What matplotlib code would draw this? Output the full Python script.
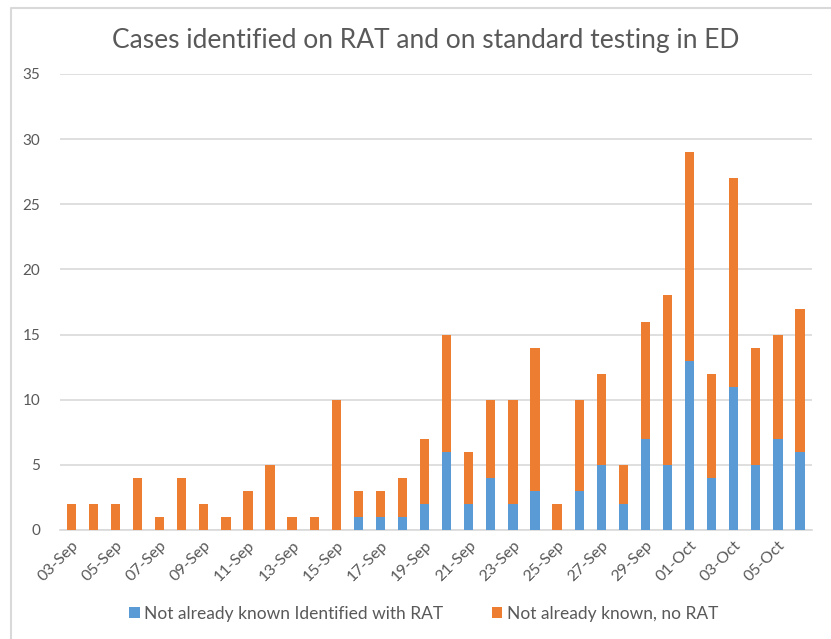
import matplotlib
matplotlib.use("Agg")
import matplotlib.pyplot as plt
import numpy as np
from matplotlib.lines import Line2D

# data
dates = ["03-Sep", "04-Sep", "05-Sep", "06-Sep", "07-Sep", "08-Sep", "09-Sep",
         "10-Sep", "11-Sep", "12-Sep", "13-Sep", "14-Sep", "15-Sep", "16-Sep",
         "17-Sep", "18-Sep", "19-Sep", "20-Sep", "21-Sep", "22-Sep", "23-Sep",
         "24-Sep", "25-Sep", "26-Sep", "27-Sep", "28-Sep", "29-Sep", "30-Sep",
         "01-Oct", "02-Oct", "03-Oct", "04-Oct", "05-Oct", "06-Oct"]
with_rat = [0, 0, 0, 0, 0, 0, 0, 0, 0, 0, 0, 0, 0, 1, 1, 1, 2, 6, 2, 4, 2,
            3, 0, 3, 5, 2, 7, 5, 13, 4, 11, 5, 7, 6]
no_rat = [2, 2, 2, 4, 1, 4, 2, 1, 3, 5, 1, 1, 10, 2, 2, 3, 5, 9, 4, 6, 8,
          11, 2, 7, 7, 3, 9, 13, 16, 8, 16, 9, 8, 11]

BLUE = "#5B9BD5"
ORANGE = "#ED7D31"
TXT = "#595959"
GRID = "#D9D9D9"

plt.rcParams["font.family"] = ["Lato", "DejaVu Sans"]

fig = plt.figure(figsize=(8.31, 6.39), dpi=100)
ax = fig.add_axes([0.072, 0.1706, 0.905, 0.7136])

x = np.arange(len(dates))
ax.bar(x, with_rat, width=0.42, color=BLUE, label="Not already known Identified with RAT", zorder=3)
ax.bar(x, no_rat, width=0.42, bottom=with_rat, color=ORANGE,
       label="Not already known, no RAT", zorder=3)

ax.set_xlim(-0.52, len(dates) - 0.46)
ax.set_ylim(0, 35)
ax.set_yticks(range(0, 36, 5))
ax.yaxis.grid(True, color=GRID, linewidth=1.2, zorder=0)
ax.set_axisbelow(True)

ax.set_xticks(x[::2])
ax.set_xticklabels(dates[::2], rotation=45, ha="right", rotation_mode="anchor")
ax.tick_params(axis="both", length=0, colors=TXT, labelsize=11)
ax.tick_params(axis="x", labelsize=11.5, pad=6)
ax.tick_params(axis="y", pad=14)

for s in ["top", "right", "left"]:
    ax.spines[s].set_visible(False)
ax.spines["bottom"].set_color(GRID)
ax.spines["bottom"].set_linewidth(1.2)

fig.text(0.512, 0.937, "Cases identified on RAT and on standard testing in ED",
         ha="center", va="center", fontsize=19, color=TXT)

leg = fig.legend(loc="center", bbox_to_anchor=(0.51, 0.039), ncol=2, frameon=False,
                 fontsize=12.5, handlelength=0.6, handleheight=0.6, handletextpad=0.25,
                 columnspacing=2.8)
for t in leg.get_texts():
    t.set_color(TXT)

# chart-area border (left and top edges visible in the reference)
fig.lines.append(Line2D([0.013, 0.013, 1.0], [0.0, 0.988, 0.988], transform=fig.transFigure,
                        color="#D9D9D9", linewidth=1.5))

fig.savefig("out.png", dpi=100)
